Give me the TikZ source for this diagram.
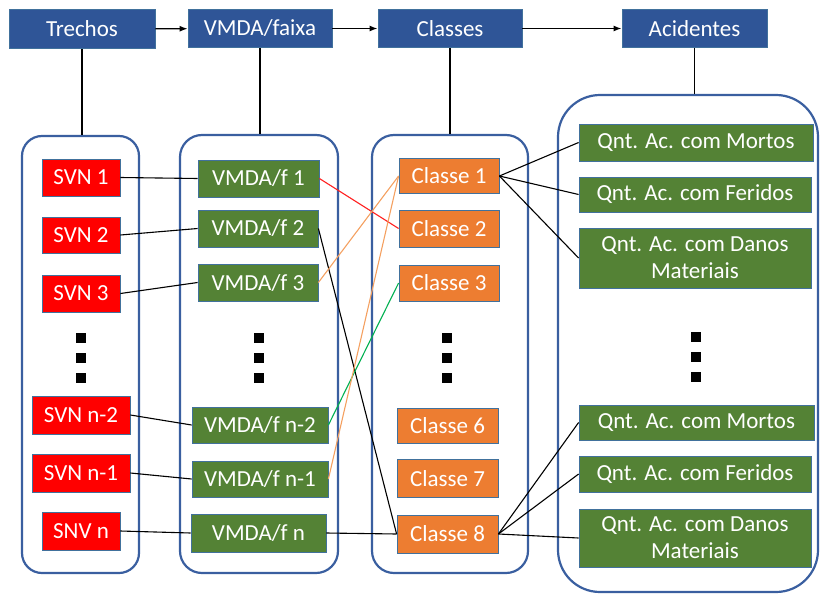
\documentclass[tikz,border=0pt]{standalone}
\usepackage{fontspec}
\setmainfont{Carlito}
\usetikzlibrary{arrows.meta}
\definecolor{hdrblue}{HTML}{2F5597}
\definecolor{edgeblue}{HTML}{41719C}
\definecolor{frameblue}{HTML}{3A5FA0}
\definecolor{svnred}{HTML}{FF0000}
\definecolor{vgreen}{HTML}{548235}
\definecolor{corange}{HTML}{ED7D31}
\definecolor{lorange}{HTML}{F4A060}
\definecolor{lgreen}{HTML}{00B050}
\definecolor{lred}{HTML}{FF2020}
\tikzset{
  base/.style={draw=edgeblue, line width=0.8pt, text=white, inner sep=0pt,
    font=\fontsize{23}{27}\selectfont, align=center},
  header/.style={base, fill=hdrblue},
  svnbox/.style={base, fill=svnred},
  vbox/.style={base, fill=vgreen},
  cbox/.style={base, fill=corange},
  frame/.style={draw=frameblue, line width=2.2pt, inner sep=0pt},
  link/.style={draw=black, line width=1.1pt},
  flow/.style={draw=black, line width=1.3pt, -{Latex[length=8pt,width=6pt]}},
  dotsq/.style={fill=black}
}
\begin{document}
\begin{tikzpicture}[x=1pt,y=-1pt]
\useasboundingbox (0,0) rectangle (821,594);

% column frames
\node[frame, rounded corners=20pt, minimum width=117pt, minimum height=437pt] (f1) at (80.5,354.5) {};
\node[frame, rounded corners=22pt, minimum width=158pt, minimum height=438pt] (f2) at (259,354) {};
\node[frame, rounded corners=22pt, minimum width=156pt, minimum height=438pt] (f3) at (450,354) {};
\node[frame, rounded corners=42pt, minimum width=260pt, minimum height=497pt] (f4) at (688,343.5) {};

% headers
\node[header, minimum width=146pt, minimum height=39pt] (h1) at (82,29) {Trechos};
\node[header, minimum width=144pt, minimum height=38pt] (h2) at (260,28.5) {VMDA/faixa};
\node[header, minimum width=144pt, minimum height=38pt] (h3) at (450,28.5) {Classes};
\node[header, minimum width=145pt, minimum height=38pt] (h4) at (694.5,28.5) {Acidentes};

\draw[flow] (h1) -- (h2);
\draw[flow] (h2) -- (h3);
\draw[flow] (h3) -- (h4);

\draw[link] (h1.south) -- (h1.south |- f1.north);
\draw[link] (h2.south) -- (h2.south |- f2.north);
\draw[link] (h3.south) -- (h3.south |- f3.north);
\draw[link] (h4.south) -- (h4.south |- f4.north);

% road segments
\node[svnbox, minimum width=78pt, minimum height=37pt] (s1) at (81,177.5) {SVN 1};
\node[svnbox, minimum width=78pt, minimum height=36pt] (s2) at (81,235) {SVN 2};
\node[svnbox, minimum width=78pt, minimum height=37pt] (s3) at (81,293.5) {SVN 3};
\node[svnbox, minimum width=98pt, minimum height=38pt] (sn2) at (81,415) {SVN n-2};
\node[svnbox, minimum width=98pt, minimum height=38pt] (sn1) at (81,473) {SVN n-1};
\node[svnbox, minimum width=78pt, minimum height=38pt] (sn) at (81,531) {SNV n};

% traffic per lane
\node[vbox, minimum width=121pt, minimum height=37pt] (v1) at (258.5,178.5) {VMDA/f 1};
\node[vbox, minimum width=120pt, minimum height=37pt] (v2) at (258,228.5) {VMDA/f 2};
\node[vbox, minimum width=120pt, minimum height=37pt] (v3) at (258,282.5) {VMDA/f 3};
\node[vbox, minimum width=136pt, minimum height=36pt] (vn2) at (260,425) {VMDA/f n-2};
\node[vbox, minimum width=136pt, minimum height=36pt] (vn1) at (260,479) {VMDA/f n-1};
\node[vbox, minimum width=135pt, minimum height=38pt] (vn) at (258.5,533) {VMDA/f n};

% classes
\node[cbox, minimum width=100pt, minimum height=35pt] (c1) at (449,176) {Classe 1};
\node[cbox, minimum width=100pt, minimum height=37pt] (c2) at (449,228.5) {Classe 2};
\node[cbox, minimum width=100pt, minimum height=36pt] (c3) at (449,283) {Classe 3};
\node[cbox, minimum width=101pt, minimum height=35pt] (c6) at (447.5,425.5) {Classe 6};
\node[cbox, minimum width=101pt, minimum height=38pt] (c7) at (447.5,478.5) {Classe 7};
\node[cbox, minimum width=101pt, minimum height=38pt] (c8) at (447.5,534) {Classe 8};

% accidents
\node[vbox, minimum width=234pt, minimum height=37pt] (a1) at (696,142.5) {Qnt. Ac. com Mortos};
\node[vbox, minimum width=232pt, minimum height=35pt] (a2) at (695,194.5) {Qnt. Ac. com Feridos};
\node[vbox, minimum width=232pt, minimum height=60pt] (a3) at (695,258) {Qnt. Ac. com Danos\\Materiais};
\node[vbox, minimum width=235pt, minimum height=35pt] (a4) at (696.5,422.5) {Qnt. Ac. com Mortos};
\node[vbox, minimum width=232pt, minimum height=36pt] (a5) at (695,474) {Qnt. Ac. com Feridos};
\node[vbox, minimum width=232pt, minimum height=58pt] (a6) at (695,538) {Qnt. Ac. com Danos\\Materiais};

% ellipsis marks
\foreach \cx/\top in {81/338, 259/338, 447/338, 696/337} {
  \foreach \k in {0,20,40} {
    \fill[dotsq] (\cx-5,\top+\k-5) rectangle (\cx+5,\top+\k+5);
  }
}

% segment to traffic
\draw[link] (s1.east) -- (v1.west);
\draw[link] (s2.east) -- (v2.west);
\draw[link] (s3.east) -- (v3.west);
\draw[link] (sn2.east) -- (vn2.west);
\draw[link] (sn1.east) -- (vn1.west);
\draw[link] (sn.east) -- (vn.west);

% traffic to class
\draw[link, draw=lred] (v1.east) -- (c2.west);
\draw[link] (v2.east) -- (c8.west);
\draw[link, draw=lorange] (v3.east) -- (c1.west);
\draw[link, draw=lgreen] (vn2.east) -- (c3.west);
\draw[link, draw=lorange] (vn1.east) -- (c1.west);
\draw[link] (vn.east) -- (c8.west);

% class to accidents
\draw[link] (c1.east) -- (a1.west);
\draw[link] (c1.east) -- (a2.west);
\draw[link] (c1.east) -- (a3.west);
\draw[link] (c8.east) -- (a4.west);
\draw[link] (c8.east) -- (a5.west);
\draw[link] (c8.east) -- (a6.west);
\end{tikzpicture}
\end{document}
